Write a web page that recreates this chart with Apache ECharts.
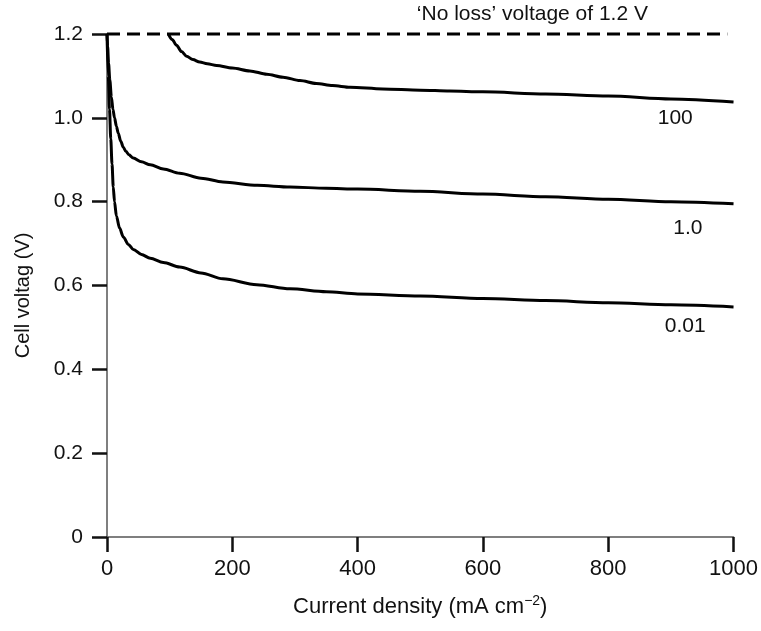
<!DOCTYPE html>
<html>
<head>
<meta charset="utf-8">
<script src="https://cdn.jsdelivr.net/npm/echarts@6/dist/echarts.min.js"></script>
<style>
html,body{margin:0;padding:0;background:#fff;}
#c{width:761px;height:631px;}
</style>
</head>
<body>
<div id="c"></div>
<script>
// Current density (mA cm^-2) and cell voltage (V) for each exchange current density
var x100 = [98, 104, 111, 119, 127, 137, 148, 160, 175, 200, 228, 255, 281, 308, 334, 360, 388, 440, 500, 547, 600, 700, 800, 900, 1000];
var v100 = [1.2, 1.187, 1.173, 1.158, 1.147, 1.139, 1.133, 1.129, 1.125, 1.119, 1.112, 1.104, 1.097, 1.089, 1.082, 1.077, 1.073, 1.069, 1.066, 1.064, 1.062, 1.057, 1.052, 1.045, 1.038];

var x1 = [0, 1, 2.5, 4.5, 7, 9.5, 12, 15, 18, 22, 26, 30, 35, 42, 55, 69, 90, 116, 150, 185, 240, 292, 350, 400, 500, 600, 700, 800, 900, 1000];
var v1 = [1.2, 1.17, 1.13, 1.09, 1.05, 1.02, 1.0, 0.98, 0.963, 0.944, 0.93, 0.92, 0.912, 0.904, 0.895, 0.888, 0.878, 0.868, 0.856, 0.847, 0.839, 0.835, 0.832, 0.830, 0.825, 0.818, 0.812, 0.806, 0.800, 0.795];

var x001 = [0, 2, 4, 6, 8, 10, 12, 15, 20, 26, 34, 42, 55, 69, 90, 116, 150, 185, 239, 292, 350, 400, 500, 600, 700, 800, 900, 1000];
var v001 = [1.2, 1.1, 1.02, 0.95, 0.89, 0.835, 0.8, 0.766, 0.737, 0.716, 0.698, 0.686, 0.674, 0.665, 0.655, 0.644, 0.630, 0.616, 0.602, 0.592, 0.585, 0.580, 0.575, 0.569, 0.564, 0.559, 0.554, 0.549];

var xNoLoss = [0, 990];
var vNoLoss = [1.2, 1.2];

var seriesNames = ['100', '1.0', '0.01'];
var noLossText = '\u2018No loss\u2019 voltage of 1.2 V';
var xTicks = [0, 200, 400, 600, 800, 1000];
var yTicks = [0, 0.2, 0.4, 0.6, 0.8, 1.0, 1.2];

function pairs(xs, ys) { return xs.map(function (x, i) { return [x, ys[i]]; }); }

var FONT = '"Liberation Sans", Arial, Helvetica, sans-serif';
var chart = echarts.init(document.getElementById('c'), null, {renderer: 'canvas'});

function curve(name, xs, ys, labelCoord) {
  return {
    name: name, type: 'line', data: pairs(xs, ys),
    smooth: 0.3, smoothMonotone: 'x', showSymbol: false, symbol: 'none',
    lineStyle: {color: '#000', width: 3},
    z: 3,
    markPoint: {
      symbol: 'circle', symbolSize: 0,
      label: {show: true, position: 'inside', formatter: name, color: '#111', fontSize: 21, fontFamily: FONT},
      data: [{coord: labelCoord, value: name}]
    }
  };
}

chart.setOption({
  animation: false,
  backgroundColor: '#fff',
  grid: {left: 107, right: 27, top: 34, bottom: 94, containLabel: false},
  xAxis: {
    type: 'value', min: 0, max: 1000, interval: 200,
    name: '{a|Current density (mA cm}{s|\u22122}{a|)}',
    nameLocation: 'middle', nameGap: 57,
    nameTextStyle: {
      rich: {
        a: {fontSize: 22, color: '#111', fontFamily: FONT},
        s: {fontSize: 14, color: '#111', fontFamily: FONT, verticalAlign: 'bottom', padding: [0, 0, 12, 0]}
      }
    },
    axisLine: {show: true, onZero: false, lineStyle: {color: '#555', width: 1.5}},
    axisTick: {show: true, inside: false, length: 15, lineStyle: {color: '#111', width: 2.5}},
    axisLabel: {margin: 21, fontSize: 22, color: '#111', fontFamily: FONT,
      formatter: function (v) { return xTicks.indexOf(v) >= 0 ? String(v) : ''; }},
    splitLine: {show: false}
  },
  yAxis: {
    type: 'value', min: 0, max: 1.2, interval: 0.2,
    name: 'Cell voltag (V)', nameLocation: 'middle', nameGap: 74, nameRotate: 90,
    nameTextStyle: {fontSize: 20, color: '#111', fontFamily: FONT, padding: [0, 20, 0, 0]},
    axisLine: {show: true, onZero: false, lineStyle: {color: '#555', width: 1.5}},
    axisTick: {show: true, inside: false, length: 15, lineStyle: {color: '#111', width: 2.5}},
    axisLabel: {margin: 24, fontSize: 21, color: '#111', fontFamily: FONT,
      formatter: function (v) {
        var r = Math.round(v * 10) / 10;
        return r === 0 ? '0' : r.toFixed(1);
      }},
    splitLine: {show: false}
  },
  series: [
    {
      name: 'noloss', type: 'line', data: pairs(xNoLoss, vNoLoss), showSymbol: false, symbol: 'none',
      clip: false,
      lineStyle: {color: '#000', width: 3, type: [13, 7]}, z: 2,
      markPoint: {
        symbol: 'circle', symbolSize: 0,
        label: {show: true, position: 'inside', offset: [0, -20], formatter: noLossText, color: '#111', fontSize: 21, fontFamily: FONT},
        data: [{coord: [679, 1.2], value: 0}]
      }
    },
    curve(seriesNames[0], x100, v100, [907, 1.0]),
    curve(seriesNames[1], x1, v1, [927, 0.737]),
    curve(seriesNames[2], x001, v001, [923, 0.503])
  ]
});
</script>
</body>
</html>
